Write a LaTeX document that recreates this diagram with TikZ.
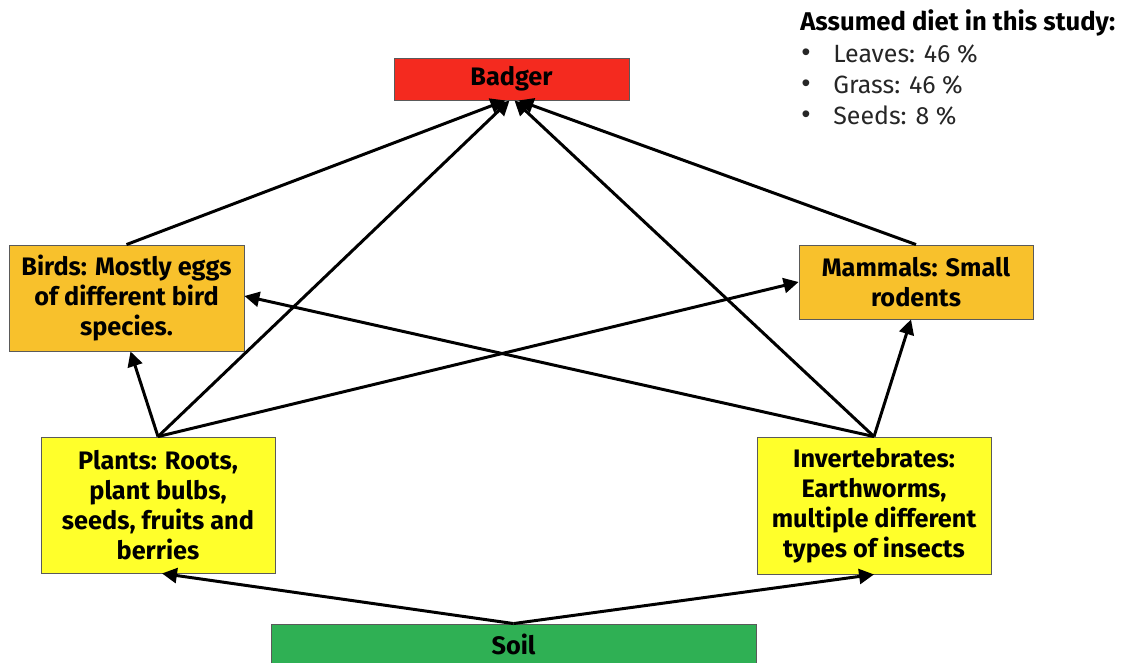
\documentclass[tikz,border=0pt]{standalone}
\usepackage{fontspec}
\setmainfont{Fira Sans}
\newfontfamily\bulletfont{Liberation Sans}
\usetikzlibrary{arrows.meta,calc}
\definecolor{badgerred}{HTML}{F42A1F}
\definecolor{predorange}{HTML}{F8C12C}
\definecolor{preyyellow}{HTML}{FFFF2B}
\definecolor{soilgreen}{HTML}{2FB054}
\definecolor{edgegray}{HTML}{5A5A5A}
\begin{document}
\begin{tikzpicture}[x=0.02cm,y=-0.02cm,
  box/.style={draw=edgegray,line width=0.5pt,inner sep=0pt,align=center,
    font=\bfseries\fontsize{14.4}{17}\selectfont,text=black},
  flow/.style={line width=1.7pt,-{Triangle[length=8.5pt,width=8.5pt]}},
  legend/.style={anchor=west,inner sep=0pt,font=\fontsize{14.2}{16}\selectfont,text=black!85},
  dot/.style={anchor=center,inner sep=0pt,font=\bulletfont\fontsize{14.2}{16}\selectfont,text=black!85}]
\useasboundingbox (0,0) rectangle (1128,662);
\begin{scope}
\clip (0,0) rectangle (1128,662);
% food web boxes
\node[box,fill=badgerred,minimum width=235*0.02cm,minimum height=42*0.02cm] (badger) at (511.5,79) {Badger};
\node[box,fill=predorange,minimum width=235*0.02cm,minimum height=106*0.02cm] (birds) at (126.5,298) {Birds: Mostly eggs\\of different bird\\species.};
\node[box,fill=predorange,minimum width=234*0.02cm,minimum height=74*0.02cm] (mammals) at (916,282) {Mammals: Small\\rodents};
\node[box,fill=preyyellow,minimum width=234*0.02cm,minimum height=136*0.02cm] (plants) at (158,505) {Plants: Roots,\\plant bulbs,\\seeds, fruits and\\berries};
\node[box,fill=preyyellow,minimum width=234*0.02cm,minimum height=137*0.02cm] (inverts) at (874,505.5) {Invertebrates:\\Earthworms,\\multiple different\\types of insects};
\node[box,fill=soilgreen,minimum width=485*0.02cm,minimum height=40*0.02cm] (soil) at (513.5,644) {Soil};
\end{scope}
% feeding links
\draw[flow] (birds.north) -- ($(badger.south)+(-6,0)$);
\draw[flow] (plants.north) -- ($(badger.south)+(-2,0)$);
\draw[flow] (inverts.north) -- ($(badger.south)+(3,0)$);
\draw[flow] (mammals.north) -- ($(badger.south)+(7,0)$);
\draw[flow] (plants.north) -- ($(birds.south)+(4,0)$);
\draw[flow] (plants.north) -- (mammals.west);
\draw[flow] (inverts.north) -- ($(birds.east)+(0,-2)$);
\draw[flow] (inverts.north) -- ($(mammals.south)+(-5,0)$);
\draw[flow] (soil.north) -- ($(plants.south)+(4,0)$);
\draw[flow] (soil.north) -- (inverts.south);
% diet legend
\node[legend,font=\bfseries\fontsize{14.6}{16}\selectfont,text=black] (title) at (800,23) {Assumed diet in this study:};
\node[dot] (b1) at (806,55) {•};
\node[legend] (l1) at (833,54) {Leaves: 46 \%};
\node[dot] (b2) at (806,86) {•};
\node[legend] (l2) at (833,85) {Grass: 46 \%};
\node[dot] (b3) at (806,117) {•};
\node[legend] (l3) at (833,116) {Seeds: 8 \%};
\end{tikzpicture}
\end{document}
